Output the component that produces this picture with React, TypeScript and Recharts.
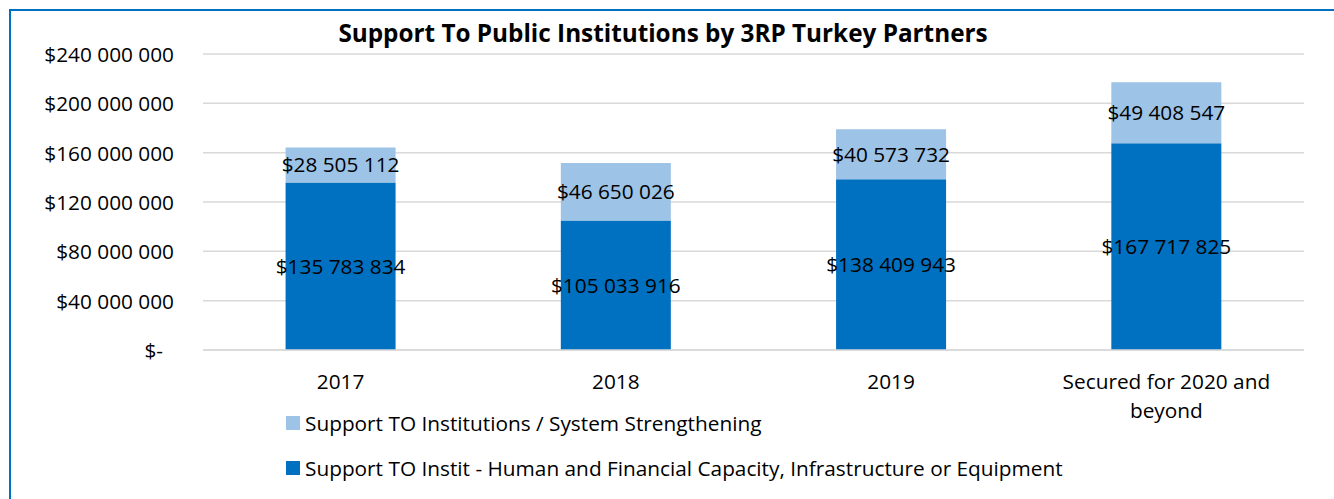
import React from "react";
import { BarChart, Bar, XAxis, YAxis, CartesianGrid, Legend, LabelList } from "recharts";

// ── data ──
const CATEGORIES = ["2017", "2018", "2019", "Secured for 2020 and beyond"];
const CAPACITY = [135783834, 105033916, 138409943, 167717825];
const STRENGTHENING = [28505112, 46650026, 40573732, 49408547];
const Y_TICKS = [0, 40000000, 80000000, 120000000, 160000000, 200000000, 240000000];

const SERIES = [
  { key: "strengthening", name: "Support TO Institutions / System Strengthening", color: "#9DC3E6" },
  { key: "capacity", name: "Support TO Instit - Human and Financial Capacity, Infrastructure or Equipment", color: "#0070C0" },
];

const TITLE = "Support To Public Institutions by 3RP Turkey Partners";

const data = CATEGORIES.map((c, i) => ({ cat: c, capacity: CAPACITY[i], strengthening: STRENGTHENING[i] }));

const FONT = "'Open Sans', Lato, sans-serif";
const GRID = "#D9D9D9";
const FS = 20.8;
const MAX_CHARS = 20; // Excel wraps the long category at about this width

const money = (v: number) => "$" + Math.round(v).toString().replace(/\B(?=(\d{3})+(?!\d))/g, " ");

function wrap(label: string) {
  const lines: string[] = [];
  let cur = "";
  for (const w of label.split(" ")) {
    const next = cur ? cur + " " + w : w;
    if (next.length > MAX_CHARS && cur) {
      lines.push(cur);
      cur = w;
    } else cur = next;
  }
  if (cur) lines.push(cur);
  return lines;
}

function YTick(props: any) {
  const { x, y, payload } = props;
  const zero = payload.value === 0;
  return (
    <text x={zero ? x - 11 : x} y={y} textAnchor="end" dominantBaseline="central" fontSize={FS} fontFamily={FONT} fill="#000">
      {zero ? "$-" : money(payload.value)}
    </text>
  );
}

function XTick(props: any) {
  const { x, y, payload } = props;
  return (
    <text x={x} y={y} textAnchor="middle" fontSize={FS} fontFamily={FONT} fill="#000">
      {wrap(String(payload.value)).map((ln, i) => (
        <tspan key={i} x={x} dy={i === 0 ? "0.9em" : 29}>{ln}</tspan>
      ))}
    </text>
  );
}

function LegendBox() {
  return (
    <div style={{ fontFamily: FONT, fontSize: FS, color: "#000" }}>
      {SERIES.map((s) => (
        <div key={s.key} style={{ display: "flex", alignItems: "center", height: 45 }}>
          <span style={{ width: 14, height: 14, background: s.color, display: "inline-block", marginRight: 5 }} />
          <span>{s.name}</span>
        </div>
      ))}
    </div>
  );
}

export default function App() {
  return (
    <div style={{ position: "absolute", left: 0, top: 0, width: 1334, height: 499, background: "#fff", overflow: "hidden" }}>
      <div style={{ position: "absolute", left: 9, top: 9, width: 1340, height: 520, borderLeft: "2px solid #0070C0", borderTop: "2px solid #0070C0" }} />
      <div style={{ position: "absolute", left: 0, width: 1334, top: 16, textAlign: "center", fontFamily: FONT, fontWeight: 700, fontSize: 24.3, color: "#000" }}>
        <span style={{ position: "relative", left: -4 }}>{TITLE}</span>
      </div>
      <BarChart width={1334} height={499} data={data} margin={{ top: 54, right: 30, bottom: 89, left: 0 }} barCategoryGap="30%" style={{ position: "absolute", left: 0, top: 0 }}>
        <CartesianGrid vertical={false} stroke={GRID} strokeWidth={1.5} />
        <XAxis dataKey="cat" height={60} tickSize={0} tickMargin={20} axisLine={{ stroke: GRID, strokeWidth: 1.5 }} tickLine={false} tick={<XTick />} interval={0} />
        <YAxis width={203} domain={[0, 240000000]} ticks={Y_TICKS} tickSize={0} tickMargin={29} axisLine={false} tickLine={false} tick={<YTick />} />
        <Legend layout="horizontal" verticalAlign="middle" align="center" wrapperStyle={{ left: 286, top: 400, width: "auto" }} content={() => <LegendBox />} />
        <Bar dataKey="capacity" name={SERIES[1].name} stackId="a" fill={SERIES[1].color} isAnimationActive={false}>
          <LabelList dataKey="capacity" position="center" formatter={(v: any) => money(Number(v))} style={{ fontSize: FS, fontFamily: FONT, fill: "#000" }} />
        </Bar>
        <Bar dataKey="strengthening" name={SERIES[0].name} stackId="a" fill={SERIES[0].color} isAnimationActive={false}>
          <LabelList dataKey="strengthening" position="center" formatter={(v: any) => money(Number(v))} style={{ fontSize: FS, fontFamily: FONT, fill: "#000" }} />
        </Bar>
      </BarChart>
    </div>
  );
}
